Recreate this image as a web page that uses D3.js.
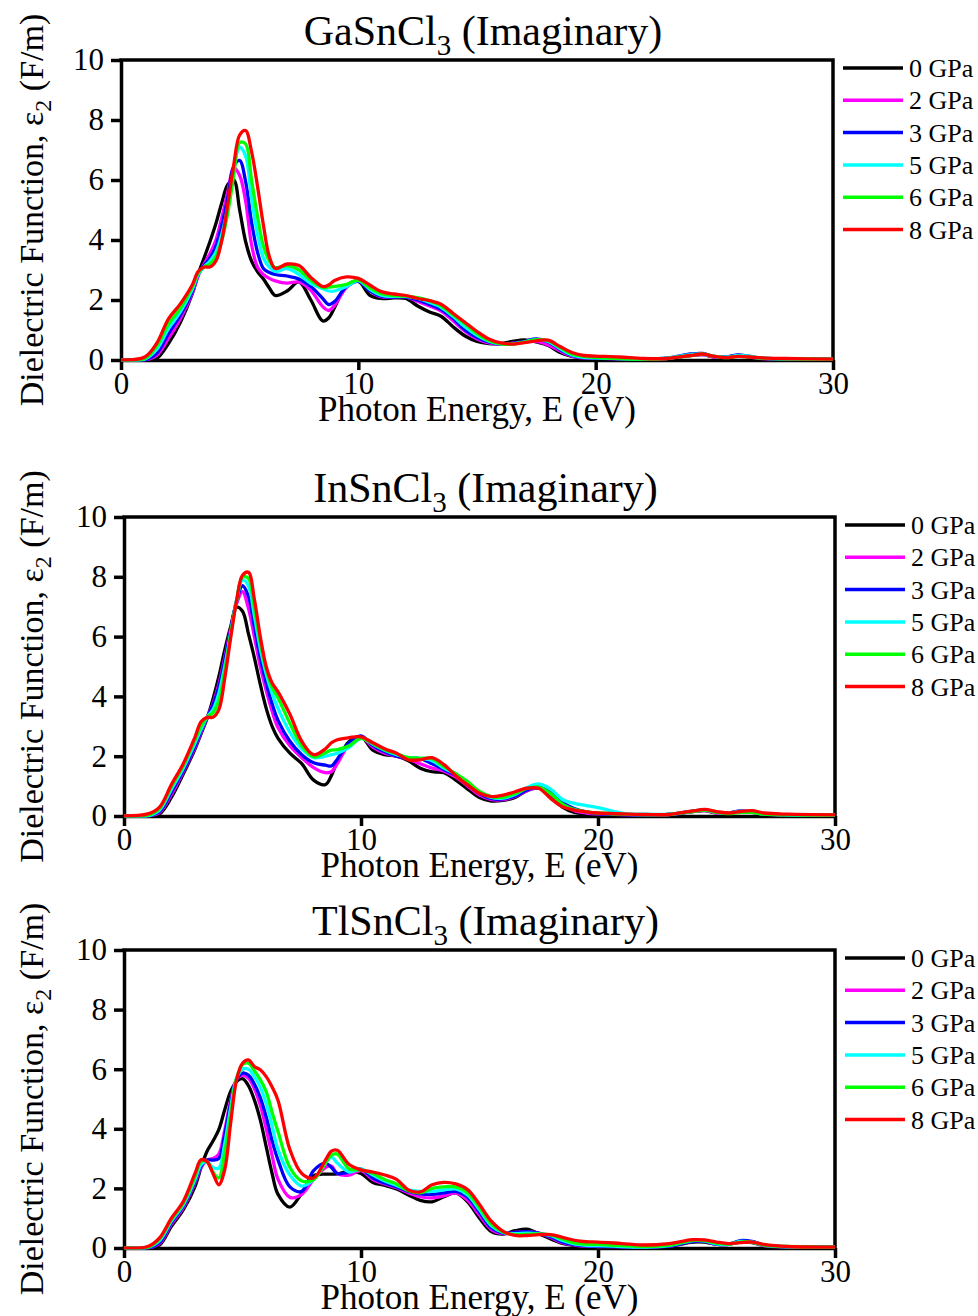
<!DOCTYPE html>
<html>
<head>
<meta charset="utf-8">
<script src="https://cdn.jsdelivr.net/npm/d3@7"></script>
<style>
  body { margin: 0; background: #fff; }
  text { font-family: "Liberation Serif", "Times New Roman", serif; fill: #000; }
</style>
</head>
<body>
<div id="chart"></div>
<script>
// photon energy grid (eV)
const energy = [0, 1, 1.5, 2, 2.5, 3, 3.25, 3.5, 3.75, 4,
  4.25, 4.5, 4.75, 5, 5.25, 5.5, 5.75, 6, 6.25, 6.5,
  7, 7.5, 8, 8.5, 8.75, 9, 9.5, 10, 10.5, 11,
  11.5, 12, 12.5, 13, 13.5, 14, 14.5, 15, 15.5, 16,
  16.5, 17, 17.5, 18, 18.5, 19, 19.5, 20, 21, 22,
  23, 24, 24.5, 25, 25.5, 26, 26.5, 27, 28, 30];

const pressures = ["0 GPa", "2 GPa", "3 GPa", "5 GPa", "6 GPa", "8 GPa"];
const colors = ["#000000", "#ff00ff", "#0000ff", "#00ffff", "#00ff00", "#ff0000"];
const yTicks = [0, 2, 4, 6, 8, 10];
const xTicks = [0, 10, 20, 30];

// GaSnCl3
const ga0 = [0, 0, 0.05, 0.55, 1.25, 2.2, 2.85, 3.4, 3.95, 4.55,
  5.25, 5.85, 6.0, 5.0, 3.95, 3.3, 2.95, 2.7, 2.4, 2.15,
  2.3, 2.6, 2.0, 1.3, 1.4, 1.75, 2.48, 2.62, 2.15, 2.05,
  2.07, 2.05, 1.8, 1.6, 1.45, 1.1, 0.8, 0.62, 0.55, 0.55,
  0.62, 0.67, 0.6, 0.48, 0.25, 0.12, 0.06, 0.05, 0.04, 0.03,
  0.05, 0.15, 0.18, 0.1, 0.1, 0.15, 0.1, 0.05, 0.04, 0.03];
const ga2 = [0, 0, 0.15, 0.72, 1.38, 2.22, 2.8, 3.2, 3.55, 4.0,
  4.75, 5.6, 6.4, 6.15, 5.3, 3.85, 3.1, 2.85, 2.72, 2.64,
  2.56, 2.6, 2.32, 1.78, 1.65, 1.82, 2.42, 2.62, 2.3, 2.1,
  2.1, 2.1, 1.95, 1.8, 1.62, 1.3, 0.95, 0.7, 0.57, 0.53,
  0.56, 0.6, 0.62, 0.5, 0.3, 0.13, 0.07, 0.06, 0.04, 0.03,
  0.05, 0.16, 0.18, 0.1, 0.1, 0.15, 0.1, 0.05, 0.04, 0.03];
const ga3 = [0, 0, 0.22, 0.88, 1.5, 2.28, 2.85, 3.15, 3.4, 3.8,
  4.5, 5.4, 6.45, 6.65, 5.95, 4.6, 3.6, 3.05, 2.92, 2.85,
  2.8, 2.7, 2.45, 2.05, 1.85, 1.95, 2.45, 2.62, 2.3, 2.12,
  2.1, 2.1, 2.0, 1.85, 1.68, 1.38, 1.0, 0.75, 0.6, 0.53,
  0.55, 0.62, 0.7, 0.6, 0.35, 0.15, 0.08, 0.06, 0.04, 0.03,
  0.06, 0.2, 0.22, 0.12, 0.1, 0.17, 0.12, 0.06, 0.04, 0.03];
const ga5 = [0, 0.03, 0.35, 1.05, 1.6, 2.35, 2.85, 3.1, 3.3, 3.6,
  4.2, 5.1, 6.35, 7.1, 6.8, 5.4, 4.2, 3.4, 3.1, 2.95,
  3.05, 2.85, 2.55, 2.38, 2.3, 2.3, 2.45, 2.65, 2.35, 2.15,
  2.12, 2.12, 2.05, 1.92, 1.75, 1.45, 1.1, 0.82, 0.63, 0.54,
  0.54, 0.6, 0.68, 0.62, 0.38, 0.17, 0.09, 0.07, 0.05, 0.03,
  0.06, 0.18, 0.2, 0.12, 0.1, 0.15, 0.12, 0.06, 0.04, 0.03];
const ga6 = [0, 0.05, 0.45, 1.2, 1.72, 2.42, 2.9, 3.1, 3.2, 3.45,
  4.0, 4.9, 6.15, 7.25, 7.2, 6.0, 4.8, 3.8, 3.3, 3.08,
  3.15, 3.0, 2.65, 2.42, 2.43, 2.45, 2.52, 2.66, 2.4, 2.2,
  2.15, 2.13, 2.08, 1.98, 1.8, 1.5, 1.2, 0.88, 0.65, 0.54,
  0.53, 0.6, 0.68, 0.64, 0.42, 0.2, 0.12, 0.09, 0.05, 0.03,
  0.05, 0.15, 0.2, 0.12, 0.08, 0.12, 0.1, 0.06, 0.04, 0.03];
const ga8 = [0, 0.1, 0.55, 1.37, 1.87, 2.5, 2.95, 3.1, 3.1, 3.3,
  4.0, 5.2, 6.5, 7.5, 7.65, 6.95, 5.8, 4.5, 3.45, 3.05,
  3.2, 3.15, 2.75, 2.45, 2.5, 2.65, 2.77, 2.72, 2.49, 2.27,
  2.2, 2.15, 2.05, 1.98, 1.85, 1.55, 1.25, 0.95, 0.7, 0.57,
  0.53, 0.58, 0.64, 0.66, 0.45, 0.25, 0.15, 0.13, 0.1, 0.05,
  0.05, 0.15, 0.2, 0.12, 0.08, 0.12, 0.1, 0.07, 0.05, 0.03];

// InSnCl3
const in0 = [0, 0, 0.07, 0.62, 1.4, 2.25, 2.75, 3.25, 3.9, 4.66,
  5.55, 6.33, 6.98, 6.85, 6.1, 5.3, 4.4, 3.6, 3.0, 2.6,
  2.1, 1.75, 1.2, 1.05, 1.35, 1.82, 2.49, 2.65, 2.2, 2.05,
  2.0, 1.85, 1.6, 1.48, 1.45, 1.2, 0.9, 0.62, 0.5, 0.52,
  0.62, 0.85, 0.93, 0.65, 0.3, 0.12, 0.07, 0.05, 0.04, 0.03,
  0.05, 0.15, 0.18, 0.1, 0.1, 0.15, 0.12, 0.06, 0.04, 0.03];
const in2 = [0, 0, 0.12, 0.72, 1.48, 2.3, 2.8, 3.28, 3.75, 4.4,
  5.3, 6.25, 7.1, 7.5, 6.95, 6.0, 5.0, 4.2, 3.5, 2.95,
  2.35, 1.95, 1.62, 1.45, 1.48, 1.75, 2.4, 2.65, 2.3, 2.1,
  2.0, 1.9, 1.75, 1.6, 1.5, 1.3, 1.0, 0.7, 0.55, 0.55,
  0.65, 0.85, 0.95, 0.75, 0.38, 0.18, 0.1, 0.07, 0.05, 0.03,
  0.05, 0.15, 0.18, 0.1, 0.1, 0.15, 0.12, 0.06, 0.04, 0.03];
const in3 = [0, 0, 0.15, 0.8, 1.52, 2.35, 2.85, 3.28, 3.7, 4.3,
  5.2, 6.2, 7.2, 7.7, 7.35, 6.35, 5.3, 4.45, 3.75, 3.2,
  2.5, 2.05, 1.78, 1.7, 1.67, 1.9, 2.45, 2.68, 2.35, 2.15,
  2.0, 1.93, 1.92, 1.75, 1.55, 1.35, 1.05, 0.75, 0.58, 0.57,
  0.67, 0.87, 0.97, 0.8, 0.45, 0.25, 0.14, 0.08, 0.05, 0.03,
  0.05, 0.16, 0.2, 0.12, 0.1, 0.17, 0.14, 0.07, 0.04, 0.03];
const in5 = [0, 0, 0.2, 0.9, 1.6, 2.45, 2.9, 3.3, 3.55, 4.1,
  5.0, 6.1, 7.2, 7.9, 7.7, 6.7, 5.6, 4.75, 4.1, 3.6,
  2.8, 2.25, 1.95, 2.0, 2.05, 2.1, 2.3, 2.6, 2.4, 2.2,
  2.05, 1.95, 1.93, 1.85, 1.6, 1.4, 1.1, 0.8, 0.62, 0.6,
  0.72, 0.95, 1.07, 0.9, 0.55, 0.42, 0.35, 0.28, 0.1, 0.06,
  0.06, 0.16, 0.2, 0.12, 0.1, 0.16, 0.13, 0.07, 0.04, 0.03];
const in6 = [0, 0.03, 0.25, 0.98, 1.68, 2.55, 3.0, 3.3, 3.45, 3.85,
  4.85, 6.05, 7.2, 8.0, 7.95, 6.95, 5.8, 4.9, 4.3, 3.95,
  3.1, 2.35, 1.98, 2.12, 2.2, 2.22, 2.35, 2.6, 2.42, 2.22,
  2.08, 1.95, 1.93, 1.92, 1.65, 1.42, 1.15, 0.82, 0.65, 0.63,
  0.75, 0.92, 0.97, 0.75, 0.4, 0.22, 0.14, 0.1, 0.06, 0.04,
  0.05, 0.15, 0.2, 0.12, 0.08, 0.12, 0.12, 0.06, 0.04, 0.03];
const in8 = [0, 0.07, 0.3, 1.05, 1.75, 2.65, 3.15, 3.3, 3.3, 3.55,
  4.6, 5.95, 7.2, 8.05, 8.15, 7.25, 6.0, 5.0, 4.45, 4.15,
  3.4, 2.5, 2.05, 2.25, 2.45, 2.55, 2.62, 2.65, 2.45, 2.25,
  2.1, 1.88, 1.88, 1.95, 1.72, 1.35, 1.04, 0.76, 0.65, 0.7,
  0.81, 0.93, 0.93, 0.59, 0.31, 0.2, 0.14, 0.1, 0.07, 0.05,
  0.05, 0.17, 0.22, 0.15, 0.1, 0.15, 0.18, 0.1, 0.06, 0.04];

// TlSnCl3
const tl0 = [0, 0, 0.1, 0.73, 1.28, 2.07, 2.7, 3.24, 3.58, 3.97,
  4.64, 5.25, 5.59, 5.68, 5.45, 4.97, 4.3, 3.4, 2.5, 1.8,
  1.37, 1.84, 2.42, 2.48, 2.48, 2.49, 2.57, 2.5, 2.2, 2.1,
  1.98, 1.78, 1.6, 1.55, 1.72, 1.85, 1.55, 1.0, 0.55, 0.47,
  0.58, 0.63, 0.48, 0.3, 0.15, 0.08, 0.05, 0.05, 0.04, 0.03,
  0.06, 0.2, 0.2, 0.12, 0.12, 0.2, 0.18, 0.08, 0.04, 0.03];
const tl2 = [0, 0, 0.15, 0.8, 1.35, 2.2, 2.7, 2.95, 3.0, 3.15,
  3.95, 4.95, 5.65, 5.8, 5.7, 5.35, 4.8, 4.0, 3.1, 2.3,
  1.7, 1.8, 2.3, 2.7, 2.75, 2.5, 2.45, 2.6, 2.3, 2.15,
  2.02, 1.85, 1.72, 1.68, 1.75, 1.85, 1.6, 1.1, 0.62, 0.48,
  0.52, 0.55, 0.5, 0.35, 0.18, 0.1, 0.06, 0.05, 0.04, 0.03,
  0.06, 0.22, 0.22, 0.13, 0.12, 0.22, 0.2, 0.08, 0.04, 0.03];
const tl3 = [0, 0, 0.18, 0.85, 1.4, 2.25, 2.75, 2.95, 2.95, 3.0,
  3.8, 4.85, 5.65, 5.87, 5.8, 5.5, 5.05, 4.4, 3.6, 2.95,
  2.05, 1.9, 2.6, 2.85, 2.7, 2.5, 2.55, 2.65, 2.35, 2.18,
  2.05, 1.9, 1.82, 1.8, 1.85, 1.9, 1.7, 1.2, 0.68, 0.5,
  0.52, 0.55, 0.5, 0.38, 0.2, 0.11, 0.07, 0.06, 0.04, 0.03,
  0.06, 0.22, 0.22, 0.13, 0.12, 0.25, 0.22, 0.1, 0.04, 0.03];
const tl5 = [0, 0.02, 0.25, 0.9, 1.45, 2.3, 2.8, 2.9, 2.7, 2.68,
  3.5, 4.7, 5.7, 6.0, 6.0, 5.75, 5.4, 4.85, 4.1, 3.3,
  2.45, 2.08, 2.3, 2.85, 3.05, 2.85, 2.55, 2.65, 2.45, 2.25,
  2.1, 1.95, 1.9, 1.9, 1.95, 1.98, 1.78, 1.28, 0.75, 0.52,
  0.48, 0.5, 0.48, 0.42, 0.25, 0.14, 0.09, 0.08, 0.05, 0.03,
  0.08, 0.25, 0.24, 0.14, 0.12, 0.22, 0.2, 0.1, 0.04, 0.03];
const tl6 = [0, 0.03, 0.3, 0.95, 1.5, 2.4, 2.9, 2.9, 2.55, 2.35,
  3.2, 4.5, 5.7, 6.15, 6.2, 5.95, 5.65, 5.25, 4.55, 3.9,
  2.7, 2.25, 2.3, 2.85, 3.12, 3.15, 2.65, 2.62, 2.5, 2.3,
  2.15, 1.92, 1.85, 2.0, 2.05, 2.05, 1.85, 1.35, 0.8, 0.53,
  0.45, 0.46, 0.47, 0.44, 0.3, 0.17, 0.13, 0.12, 0.08, 0.05,
  0.1, 0.26, 0.25, 0.16, 0.13, 0.2, 0.2, 0.1, 0.05, 0.03];
const tl8 = [0, 0.05, 0.34, 1.0, 1.56, 2.51, 2.96, 2.9, 2.51, 2.12,
  2.63, 4.19, 5.64, 6.2, 6.31, 6.09, 5.98, 5.75, 5.4, 4.95,
  3.3, 2.5, 2.35, 2.95, 3.25, 3.28, 2.8, 2.62, 2.55, 2.45,
  2.3, 1.95, 1.88, 2.12, 2.2, 2.15, 1.96, 1.46, 0.9, 0.56,
  0.42, 0.42, 0.45, 0.45, 0.36, 0.26, 0.21, 0.2, 0.15, 0.1,
  0.15, 0.28, 0.27, 0.2, 0.15, 0.18, 0.2, 0.12, 0.05, 0.03];

const panels = [
  { name: "GaSnCl", top: 60, bottom: 360, left: 121, right: 833, series: [ga0, ga2, ga3, ga5, ga6, ga8] },
  { name: "InSnCl", top: 517, bottom: 816, left: 124, right: 835, series: [in0, in2, in3, in5, in6, in8] },
  { name: "TlSnCl", top: 950, bottom: 1248, left: 124, right: 835, series: [tl0, tl2, tl3, tl5, tl6, tl8] }
];

const svg = d3.select("#chart").append("svg")
    .attr("width", 978)
    .attr("height", 1316)
    .style("background", "#fff");

panels.forEach((p, i) => {
    const x = d3.scaleLinear().domain([0, 30]).range([p.left, p.right]);
    const y = d3.scaleLinear().domain([0, 10]).range([p.bottom, p.top]);
    const g = svg.append("g");

    // axes
    const yAxis = g.append("g")
        .attr("transform", `translate(${p.left},0)`)
        .call(d3.axisLeft(y).tickValues(yTicks).tickSize(10).tickSizeOuter(0).tickPadding(7));
    const xAxis = g.append("g")
        .attr("transform", `translate(0,${p.bottom})`)
        .call(d3.axisBottom(x).tickValues(xTicks).tickSize(10).tickSizeOuter(0).tickPadding(2));
    [yAxis, xAxis].forEach(a => {
        a.selectAll("path, line").attr("stroke", "#000").attr("stroke-width", 3.5);
        a.selectAll("text").style("font-size", "31px").attr("fill", "#000");
    });

    // frame top and right
    g.append("path")
        .attr("d", `M${p.left - 1.75},${p.top} H${p.right} V${p.bottom + 1.75}`)
        .attr("fill", "none").attr("stroke", "#000").attr("stroke-width", 3.5);

    // curves
    svg.append("clipPath").attr("id", "clip" + i)
      .append("rect")
        .attr("x", p.left).attr("y", p.top)
        .attr("width", p.right - p.left).attr("height", p.bottom - p.top + 1.5);

    const line = d3.line()
        .x((d, j) => x(energy[j]))
        .y(d => y(d))
        .curve(d3.curveCatmullRom.alpha(0.5));

    p.series.forEach((s, k) => {
        g.append("path")
            .attr("d", line(s))
            .attr("fill", "none")
            .attr("stroke", colors[k])
            .attr("stroke-width", 3.3)
            .attr("stroke-linejoin", "round")
            .attr("clip-path", `url(#clip${i})`);
    });

    // title
    const title = g.append("text")
        .attr("x", (p.left + p.right) / 2 + 6)
        .attr("y", p.top - 15)
        .attr("text-anchor", "middle")
        .style("font-size", "42px");
    title.append("tspan").text(p.name);
    title.append("tspan").attr("dy", 10).style("font-size", "29px").text("3");
    title.append("tspan").attr("dy", -10).text(" (Imaginary)");

    // x label
    g.append("text")
        .attr("x", (p.left + p.right) / 2)
        .attr("y", p.bottom + 61)
        .attr("text-anchor", "middle")
        .style("font-size", "35px")
        .text("Photon Energy, E (eV)");

    // y label
    const yl = g.append("text")
        .attr("transform", `translate(43,${(p.top + p.bottom) / 2}) rotate(-90)`)
        .attr("text-anchor", "middle")
        .style("font-size", "34px");
    yl.append("tspan").text("Dielectric Function, ε");
    yl.append("tspan").attr("dy", 8).style("font-size", "24px").text("2");
    yl.append("tspan").attr("dy", -8).text(" (F/m)");

    // legend
    const leg = g.append("g");
    pressures.forEach((name, k) => {
        const ly = p.top + 8 + k * 32.3;
        leg.append("line")
            .attr("x1", p.right + 10).attr("x2", p.right + 70)
            .attr("y1", ly).attr("y2", ly)
            .attr("stroke", colors[k]).attr("stroke-width", 3.5);
        leg.append("text")
            .attr("x", p.right + 76).attr("y", ly)
            .attr("dy", "0.35em")
            .style("font-size", "26px")
            .text(name);
    });
});
</script>
</body>
</html>
